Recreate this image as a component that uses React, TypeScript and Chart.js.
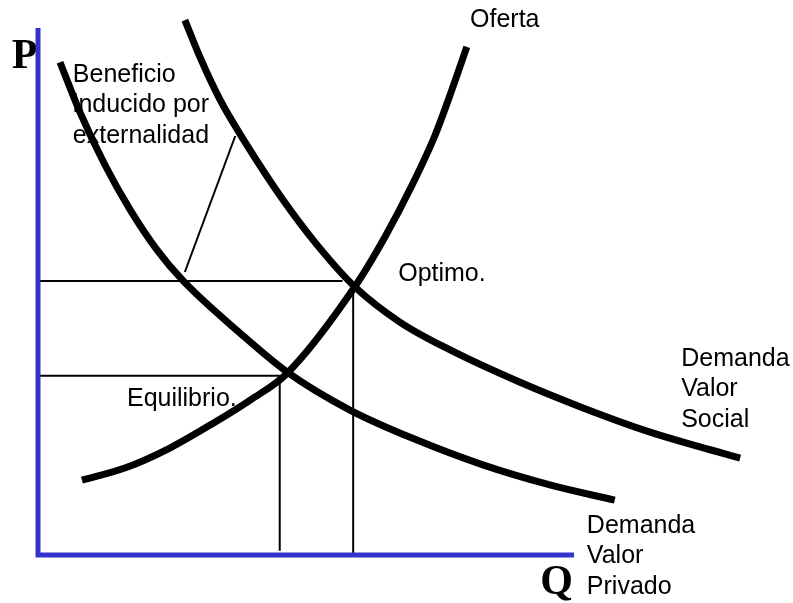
import React, { useEffect, useRef } from "react";
import { Chart, registerables } from "chart.js";

Chart.register(...registerables);

// Quantity (Q) and price (P) values, arbitrary units (axes run 0..100)
const Q_OFERTA = [8.2, 16.2, 24.6, 33.0, 39.6, 46.5, 59.1, 64.7, 69.8, 74.1, 77.2, 80.0];
const P_OFERTA = [14.2, 16.5, 20.3, 25.2, 29.4, 34.5, 50.9, 60.3, 70.2, 79.7, 88.2, 96.4];

const Q_PRIVADO = [4.1, 7.8, 12.5, 17.2, 22.2, 27.1, 37.7, 46.5, 58.2, 70.7, 83.0, 95.5, 107.6];
const P_PRIVADO = [93.5, 84.1, 74.0, 65.5, 57.9, 52.0, 42.1, 34.7, 27.5, 21.8, 17.1, 13.3, 10.4];

const Q_SOCIAL = [27.4, 30.2, 34.0, 38.6, 45.7, 52.1, 59.1, 67.5, 76.9, 89.4, 101.7, 114.2, 123.5, 131.0];
const P_SOCIAL = [101.5, 94.5, 86.3, 78.4, 67.4, 58.8, 50.9, 44.2, 38.9, 33.0, 27.9, 23.3, 20.5, 18.4];

// Equilibrium and optimum
const Q_EQUILIBRIO = 45.1;
const P_EQUILIBRIO = 34.0;
const Q_OPTIMO = 58.8;
const P_OPTIMO = 52.0;

// Pointer from label to the gap between demand curves
const Q_POINTER = [27.4, 36.8];
const P_POINTER = [53.7, 79.5];

const AXIS_MAX = 100;

const zip = (xs: number[], ys: number[]) => xs.map((x, i) => ({ x, y: ys[i] }));

type Label = { lines: string[]; q: number; p: number; font: string };
const SANS = '25px "Liberation Sans", Arial, sans-serif';
const SERIF = 'bold 42px "Liberation Serif", "Times New Roman", serif';
const LABELS: Label[] = [
  { lines: ["Oferta"], q: 80.6, p: 100.2, font: SANS },
  { lines: ["Optimo."], q: 67.2, p: 52.0, font: SANS },
  { lines: ["Equilibrio."], q: 16.6, p: 28.3, font: SANS },
  { lines: ["Beneficio", "inducido por", "externalidad"], q: 6.5, p: 89.8, font: SANS },
  { lines: ["Demanda", "Valor", "Social"], q: 120.0, p: 35.9, font: SANS },
  { lines: ["Demanda", "Valor", "Privado"], q: 102.4, p: 4.2, font: SANS },
  { lines: ["P"], q: -4.9, p: 92.4, font: SERIF },
  { lines: ["Q"], q: 93.7, p: -7.4, font: SERIF },
];
const LINE_HEIGHT = 30.5;

const labelPlugin = {
  id: "labels",
  beforeDatasetsDraw(chart: any) {
    const ctx = chart.ctx;
    const xs = chart.scales.x;
    const ys = chart.scales.y;
    ctx.save();
    ctx.fillStyle = "#000";
    ctx.textBaseline = "alphabetic";
    ctx.textAlign = "left";
    for (const l of LABELS) {
      ctx.font = l.font;
      const x = xs.getPixelForValue(l.q);
      const y = ys.getPixelForValue(l.p);
      l.lines.forEach((t, i) => ctx.fillText(t, x, y + i * LINE_HEIGHT));
    }
    ctx.restore();
  },
};

export default function App() {
  const ref = useRef<HTMLCanvasElement | null>(null);
  useEffect(() => {
    if (!ref.current) return;
    const thick = { borderColor: "#000", borderWidth: 7, pointRadius: 0, cubicInterpolationMode: "monotone" as const, fill: false };
    const thin = { borderColor: "#000", borderWidth: 2, pointRadius: 0, tension: 0, fill: false };
    const chart = new Chart(ref.current, {
      type: "line",
      data: {
        datasets: [
          {
            label: "Ejes",
            data: [{ x: 0, y: AXIS_MAX }, { x: 0, y: 0 }, { x: AXIS_MAX, y: 0 }],
            borderColor: "#3333cc",
            borderWidth: 5,
            pointRadius: 0,
            tension: 0,
            borderJoinStyle: "miter",
          } as any,
          { label: "h1", data: [{ x: 0, y: P_OPTIMO }, { x: Q_OPTIMO - 2, y: P_OPTIMO }], ...thin },
          { label: "v1", data: [{ x: Q_OPTIMO, y: 50.9 }, { x: Q_OPTIMO, y: 0 }], ...thin },
          { label: "h2", data: [{ x: 0, y: P_EQUILIBRIO }, { x: Q_EQUILIBRIO, y: P_EQUILIBRIO }], ...thin },
          { label: "v2", data: [{ x: Q_EQUILIBRIO, y: P_EQUILIBRIO }, { x: Q_EQUILIBRIO, y: 0.8 }], ...thin },
          { label: "pointer", data: zip(Q_POINTER, P_POINTER), ...thin },
          { label: "Oferta", data: zip(Q_OFERTA, P_OFERTA), ...thick },
          { label: "Demanda Valor Privado", data: zip(Q_PRIVADO, P_PRIVADO), ...thick },
          { label: "Demanda Valor Social", data: zip(Q_SOCIAL, P_SOCIAL), ...thick },
        ],
      },
      options: {
        responsive: false,
        animation: false,
        devicePixelRatio: 1,
        layout: { padding: 0 },
        events: [],
        scales: {
          x: { type: "linear", min: -7.09, max: 140.86, display: false },
          y: { type: "linear", min: -9.11, max: 105.31, display: false },
        },
        plugins: { legend: { display: false }, tooltip: { enabled: false } },
      },
      plugins: [labelPlugin],
    });
    return () => chart.destroy();
  }, []);
  return (
    <div style={{ position: "absolute", left: 0, top: 0, width: 793, height: 603, background: "#fff" }}>
      <canvas ref={ref} width={793} height={603} />
    </div>
  );
}
